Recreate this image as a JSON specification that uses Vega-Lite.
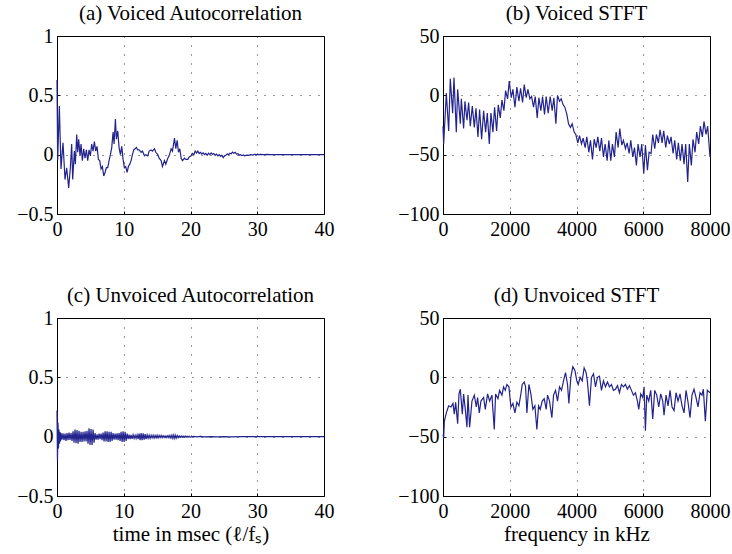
{
  "$schema": "https://vega.github.io/schema/vega-lite/v6.json",
  "background": "#ffffff",
  "autosize": {"type": "pad"},
  "padding": {"left": 16, "top": 2, "right": 5, "bottom": 5},
  "columns": 2,
  "spacing": {"row": 104, "column": 119},
  "bounds": "flush",
  "datasets": {
    "a": [
      {"t": 0, "v": 0.63}, {"t": 0.1, "v": -0.05}, {"t": 0.35, "v": 0.41}, {"t": 0.6, "v": -0.12}, {"t": 0.8, "v": 0.03}, {"t": 0.9, "v": 0.1},
      {"t": 1.2, "v": -0.21}, {"t": 1.45, "v": -0.11}, {"t": 1.75, "v": -0.28}, {"t": 2.0, "v": -0.11}, {"t": 2.2, "v": 0.09}, {"t": 2.35, "v": -0.21},
      {"t": 2.6, "v": 0.03}, {"t": 2.75, "v": -0.08}, {"t": 2.95, "v": 0.17}, {"t": 3.1, "v": 0.02}, {"t": 3.25, "v": 0.13}, {"t": 3.45, "v": -0.01},
      {"t": 3.6, "v": 0.09}, {"t": 3.8, "v": -0.05}, {"t": 4.0, "v": 0.05}, {"t": 4.2, "v": -0.03}, {"t": 4.4, "v": 0.04}, {"t": 4.6, "v": -0.05},
      {"t": 4.8, "v": 0.04}, {"t": 5.0, "v": -0.01}, {"t": 5.2, "v": 0.09}, {"t": 5.4, "v": 0.03}, {"t": 5.6, "v": 0.11}, {"t": 5.8, "v": 0.03},
      {"t": 6.0, "v": 0.07}, {"t": 6.2, "v": -0.04}, {"t": 6.4, "v": -0.05}, {"t": 6.6, "v": -0.12}, {"t": 6.8, "v": -0.1}, {"t": 7.0, "v": -0.18},
      {"t": 7.2, "v": -0.15}, {"t": 7.4, "v": -0.11}, {"t": 7.6, "v": -0.11}, {"t": 7.8, "v": -0.05}, {"t": 8.0, "v": 0.0}, {"t": 8.2, "v": 0.06},
      {"t": 8.4, "v": 0.19}, {"t": 8.55, "v": 0.09}, {"t": 8.75, "v": 0.3}, {"t": 8.9, "v": 0.13}, {"t": 9.1, "v": 0.2}, {"t": 9.3, "v": 0.06},
      {"t": 9.5, "v": 0.0}, {"t": 9.7, "v": 0.07}, {"t": 9.9, "v": -0.04}, {"t": 10.1, "v": -0.11}, {"t": 10.3, "v": -0.1}, {"t": 10.5, "v": -0.15},
      {"t": 10.7, "v": -0.1}, {"t": 10.9, "v": -0.08}, {"t": 11.1, "v": -0.05}, {"t": 11.3, "v": 0.0}, {"t": 11.5, "v": 0.04}, {"t": 11.7, "v": 0.05},
      {"t": 11.9, "v": 0.06}, {"t": 12.1, "v": 0.04}, {"t": 12.3, "v": 0.04}, {"t": 12.6, "v": 0.02}, {"t": 12.8, "v": 0.03}, {"t": 13.1, "v": -0.01},
      {"t": 13.3, "v": 0.0}, {"t": 13.6, "v": -0.01}, {"t": 13.8, "v": 0.03}, {"t": 14.1, "v": 0.04}, {"t": 14.3, "v": 0.03}, {"t": 14.6, "v": 0.05},
      {"t": 14.8, "v": 0.02}, {"t": 15.1, "v": 0.0}, {"t": 15.3, "v": -0.03}, {"t": 15.6, "v": -0.05}, {"t": 15.8, "v": -0.1}, {"t": 16.1, "v": -0.05},
      {"t": 16.3, "v": -0.08}, {"t": 16.6, "v": -0.03}, {"t": 16.8, "v": -0.01}, {"t": 17.1, "v": 0.05}, {"t": 17.3, "v": 0.03}, {"t": 17.6, "v": 0.14},
      {"t": 17.8, "v": 0.05}, {"t": 18.0, "v": 0.12}, {"t": 18.2, "v": 0.02}, {"t": 18.4, "v": 0.05}, {"t": 18.6, "v": -0.03}, {"t": 18.8, "v": -0.05},
      {"t": 19.1, "v": -0.03}, {"t": 19.3, "v": -0.04}, {"t": 19.6, "v": -0.04}, {"t": 19.8, "v": -0.02}, {"t": 20.1, "v": -0.01}, {"t": 20.3, "v": 0.01},
      {"t": 20.5, "v": 0.0}, {"t": 20.7, "v": 0.03}, {"t": 20.9, "v": 0.015}, {"t": 21.1, "v": 0.03}, {"t": 21.3, "v": 0.01}, {"t": 21.5, "v": 0.02},
      {"t": 21.7, "v": 0.005}, {"t": 21.9, "v": 0.015}, {"t": 22.1, "v": 0.0}, {"t": 22.3, "v": 0.01}, {"t": 22.5, "v": -0.005}, {"t": 22.7, "v": 0.012},
      {"t": 22.9, "v": 0.0}, {"t": 23.1, "v": 0.015}, {"t": 23.3, "v": 0.002}, {"t": 23.5, "v": 0.01}, {"t": 23.7, "v": -0.005}, {"t": 23.9, "v": 0.005},
      {"t": 24.1, "v": -0.01}, {"t": 24.3, "v": 0.0}, {"t": 24.5, "v": -0.015}, {"t": 24.7, "v": -0.005}, {"t": 24.9, "v": -0.025}, {"t": 25.1, "v": -0.01},
      {"t": 25.3, "v": -0.005}, {"t": 25.5, "v": 0.005}, {"t": 25.7, "v": 0.0}, {"t": 25.9, "v": 0.012}, {"t": 26.1, "v": 0.008}, {"t": 26.3, "v": 0.022},
      {"t": 26.5, "v": 0.012}, {"t": 26.7, "v": 0.02}, {"t": 26.9, "v": 0.005}, {"t": 27.1, "v": 0.008}, {"t": 27.3, "v": -0.005}, {"t": 27.5, "v": 0.0},
      {"t": 27.7, "v": -0.008}, {"t": 27.9, "v": -0.003}, {"t": 28.1, "v": -0.01}, {"t": 28.4, "v": -0.004}, {"t": 28.7, "v": -0.006}, {"t": 29.0, "v": 0.0},
      {"t": 29.3, "v": -0.003}, {"t": 29.6, "v": 0.002}, {"t": 30.0, "v": 0.001}, {"t": 30.5, "v": 0.003}, {"t": 31.0, "v": 0.0}, {"t": 31.5, "v": 0.002},
      {"t": 32.0, "v": 0.0}, {"t": 33.0, "v": 0.001}, {"t": 34.0, "v": 0.0}, {"t": 35.0, "v": 0.001}, {"t": 36.0, "v": 0.0}, {"t": 38.0, "v": 0.0}, {"t": 40.0, "v": 0.0}
    ],
    "b": [
      {"f": 0, "v": -26}, {"f": 20, "v": -41}, {"f": 100, "v": 2}, {"f": 170, "v": -30}, {"f": 219, "v": 14}, {"f": 289, "v": -15},
      {"f": 329, "v": 15}, {"f": 399, "v": -31}, {"f": 439, "v": 5}, {"f": 519, "v": -24}, {"f": 549, "v": -3}, {"f": 618, "v": -28},
      {"f": 658, "v": -5}, {"f": 718, "v": -21}, {"f": 768, "v": -6}, {"f": 818, "v": -26}, {"f": 878, "v": -9}, {"f": 938, "v": -27},
      {"f": 988, "v": -11}, {"f": 1047, "v": -35}, {"f": 1097, "v": -12}, {"f": 1157, "v": -37}, {"f": 1217, "v": -13}, {"f": 1277, "v": -31},
      {"f": 1327, "v": -15}, {"f": 1387, "v": -41}, {"f": 1436, "v": -15}, {"f": 1496, "v": -31}, {"f": 1546, "v": -10}, {"f": 1606, "v": -30},
      {"f": 1656, "v": -8}, {"f": 1716, "v": -19}, {"f": 1766, "v": -4}, {"f": 1825, "v": -13}, {"f": 1875, "v": 4}, {"f": 1935, "v": -3},
      {"f": 1985, "v": 12}, {"f": 2045, "v": -2}, {"f": 2095, "v": 5}, {"f": 2155, "v": -10}, {"f": 2214, "v": 7}, {"f": 2274, "v": -5},
      {"f": 2324, "v": 6}, {"f": 2384, "v": -6}, {"f": 2434, "v": 9}, {"f": 2494, "v": -2}, {"f": 2544, "v": 5}, {"f": 2603, "v": -3},
      {"f": 2653, "v": -1}, {"f": 2713, "v": -10}, {"f": 2763, "v": -1}, {"f": 2823, "v": -19}, {"f": 2873, "v": -2}, {"f": 2933, "v": -13},
      {"f": 2983, "v": -1}, {"f": 3042, "v": -16}, {"f": 3092, "v": -1}, {"f": 3152, "v": -15}, {"f": 3212, "v": -1}, {"f": 3272, "v": -13},
      {"f": 3322, "v": -2}, {"f": 3382, "v": -24}, {"f": 3431, "v": 0}, {"f": 3491, "v": -5}, {"f": 3541, "v": -3}, {"f": 3601, "v": -8},
      {"f": 3651, "v": -10}, {"f": 3711, "v": -16}, {"f": 3761, "v": -24}, {"f": 3820, "v": -27}, {"f": 3870, "v": -24}, {"f": 3930, "v": -31},
      {"f": 3980, "v": -33}, {"f": 4040, "v": -40}, {"f": 4090, "v": -34}, {"f": 4150, "v": -41}, {"f": 4200, "v": -36}, {"f": 4259, "v": -44},
      {"f": 4309, "v": -35}, {"f": 4369, "v": -48}, {"f": 4419, "v": -38}, {"f": 4479, "v": -54}, {"f": 4529, "v": -37}, {"f": 4589, "v": -44},
      {"f": 4638, "v": -35}, {"f": 4698, "v": -47}, {"f": 4748, "v": -36}, {"f": 4808, "v": -52}, {"f": 4858, "v": -41}, {"f": 4918, "v": -55},
      {"f": 4968, "v": -38}, {"f": 5027, "v": -55}, {"f": 5077, "v": -41}, {"f": 5137, "v": -52}, {"f": 5187, "v": -31}, {"f": 5247, "v": -44},
      {"f": 5297, "v": -28}, {"f": 5357, "v": -42}, {"f": 5406, "v": -38}, {"f": 5466, "v": -45}, {"f": 5516, "v": -40}, {"f": 5576, "v": -49},
      {"f": 5626, "v": -38}, {"f": 5686, "v": -52}, {"f": 5736, "v": -44}, {"f": 5795, "v": -59}, {"f": 5845, "v": -41}, {"f": 5905, "v": -52},
      {"f": 5955, "v": -41}, {"f": 6015, "v": -66}, {"f": 6065, "v": -42}, {"f": 6125, "v": -63}, {"f": 6175, "v": -48}, {"f": 6234, "v": -49},
      {"f": 6284, "v": -33}, {"f": 6344, "v": -45}, {"f": 6394, "v": -33}, {"f": 6454, "v": -40}, {"f": 6504, "v": -29}, {"f": 6564, "v": -40},
      {"f": 6613, "v": -30}, {"f": 6673, "v": -44}, {"f": 6723, "v": -34}, {"f": 6783, "v": -41}, {"f": 6833, "v": -35}, {"f": 6893, "v": -49},
      {"f": 6943, "v": -38}, {"f": 7002, "v": -54}, {"f": 7052, "v": -40}, {"f": 7112, "v": -55}, {"f": 7162, "v": -41}, {"f": 7222, "v": -58},
      {"f": 7272, "v": -41}, {"f": 7332, "v": -73}, {"f": 7381, "v": -41}, {"f": 7441, "v": -59}, {"f": 7491, "v": -37}, {"f": 7551, "v": -48},
      {"f": 7601, "v": -31}, {"f": 7661, "v": -41}, {"f": 7711, "v": -26}, {"f": 7771, "v": -35}, {"f": 7820, "v": -22}, {"f": 7880, "v": -33},
      {"f": 7930, "v": -26}, {"f": 8000, "v": -52}
    ],
    "c": [
      {"t": 0, "v": 0.22}, {"t": 0.07, "v": -0.2}, {"t": 0.15, "v": 0.12}, {"t": 0.22, "v": -0.1}, {"t": 0.3, "v": 0.06}, {"t": 0.37, "v": -0.06},
      {"t": 0.45, "v": 0.04}, {"t": 0.52, "v": -0.04}, {"t": 0.6, "v": 0.03}, {"t": 0.75, "v": -0.025}, {"t": 0.9, "v": 0.028}, {"t": 1.05, "v": -0.03},
      {"t": 1.2, "v": 0.025}, {"t": 1.35, "v": -0.035}, {"t": 1.5, "v": 0.03}, {"t": 1.65, "v": -0.03}, {"t": 1.8, "v": 0.035}, {"t": 1.95, "v": -0.028},
      {"t": 2.1, "v": 0.03}, {"t": 2.25, "v": -0.035}, {"t": 2.4, "v": 0.045}, {"t": 2.55, "v": -0.05}, {"t": 2.7, "v": 0.06}, {"t": 2.85, "v": -0.055},
      {"t": 3.0, "v": 0.055}, {"t": 3.15, "v": -0.06}, {"t": 3.3, "v": 0.05}, {"t": 3.45, "v": -0.045}, {"t": 3.6, "v": 0.04}, {"t": 3.75, "v": -0.045},
      {"t": 3.9, "v": 0.04}, {"t": 4.05, "v": -0.04}, {"t": 4.2, "v": 0.045}, {"t": 4.35, "v": -0.04}, {"t": 4.5, "v": 0.05}, {"t": 4.65, "v": -0.06},
      {"t": 4.8, "v": 0.07}, {"t": 4.95, "v": -0.07}, {"t": 5.1, "v": 0.065}, {"t": 5.25, "v": -0.07}, {"t": 5.4, "v": 0.06}, {"t": 5.55, "v": -0.05},
      {"t": 5.7, "v": 0.03}, {"t": 5.85, "v": -0.025}, {"t": 6.0, "v": 0.02}, {"t": 6.15, "v": -0.025}, {"t": 6.3, "v": 0.025}, {"t": 6.45, "v": -0.02},
      {"t": 6.6, "v": 0.025}, {"t": 6.75, "v": -0.03}, {"t": 6.9, "v": 0.035}, {"t": 7.05, "v": -0.04}, {"t": 7.2, "v": 0.045}, {"t": 7.35, "v": -0.04},
      {"t": 7.5, "v": 0.045}, {"t": 7.65, "v": -0.045}, {"t": 7.8, "v": 0.04}, {"t": 7.95, "v": -0.045}, {"t": 8.1, "v": 0.04}, {"t": 8.25, "v": -0.035},
      {"t": 8.4, "v": 0.03}, {"t": 8.55, "v": -0.025}, {"t": 8.7, "v": 0.025}, {"t": 8.85, "v": -0.025}, {"t": 9.0, "v": 0.028}, {"t": 9.15, "v": -0.03},
      {"t": 9.3, "v": 0.03}, {"t": 9.45, "v": -0.035}, {"t": 9.6, "v": 0.04}, {"t": 9.75, "v": -0.045}, {"t": 9.9, "v": 0.045}, {"t": 10.05, "v": -0.045},
      {"t": 10.2, "v": 0.04}, {"t": 10.35, "v": -0.035}, {"t": 10.5, "v": 0.025}, {"t": 10.65, "v": -0.02}, {"t": 10.8, "v": 0.018}, {"t": 10.95, "v": -0.02},
      {"t": 11.1, "v": 0.015}, {"t": 11.25, "v": -0.018}, {"t": 11.4, "v": 0.015}, {"t": 11.55, "v": -0.015}, {"t": 11.7, "v": 0.012}, {"t": 11.85, "v": -0.015},
      {"t": 12.0, "v": 0.015}, {"t": 12.15, "v": -0.02}, {"t": 12.3, "v": 0.025}, {"t": 12.45, "v": -0.03}, {"t": 12.6, "v": 0.03}, {"t": 12.75, "v": -0.03},
      {"t": 12.9, "v": 0.028}, {"t": 13.05, "v": -0.025}, {"t": 13.2, "v": 0.022}, {"t": 13.35, "v": -0.02}, {"t": 13.5, "v": 0.015}, {"t": 13.65, "v": -0.013},
      {"t": 13.8, "v": 0.012}, {"t": 13.95, "v": -0.014}, {"t": 14.1, "v": 0.012}, {"t": 14.25, "v": -0.01}, {"t": 14.4, "v": 0.012}, {"t": 14.55, "v": -0.012},
      {"t": 14.7, "v": 0.01}, {"t": 14.85, "v": -0.01}, {"t": 15.0, "v": 0.012}, {"t": 15.15, "v": -0.01}, {"t": 15.3, "v": 0.01}, {"t": 15.45, "v": -0.008},
      {"t": 15.6, "v": 0.01}, {"t": 15.75, "v": -0.008}, {"t": 15.9, "v": 0.008}, {"t": 16.05, "v": -0.008}, {"t": 16.2, "v": 0.007}, {"t": 16.35, "v": -0.007},
      {"t": 16.5, "v": 0.008}, {"t": 16.65, "v": -0.008}, {"t": 16.8, "v": 0.01}, {"t": 16.95, "v": -0.01}, {"t": 17.1, "v": 0.012}, {"t": 17.25, "v": -0.014},
      {"t": 17.4, "v": 0.015}, {"t": 17.55, "v": -0.015}, {"t": 17.7, "v": 0.014}, {"t": 17.85, "v": -0.012}, {"t": 18.0, "v": 0.01}, {"t": 18.15, "v": -0.008},
      {"t": 18.3, "v": 0.006}, {"t": 18.45, "v": -0.006}, {"t": 18.6, "v": 0.005}, {"t": 18.75, "v": -0.005}, {"t": 18.9, "v": 0.005}, {"t": 19.05, "v": -0.004},
      {"t": 19.2, "v": 0.004}, {"t": 19.35, "v": -0.004}, {"t": 19.5, "v": 0.004}, {"t": 19.65, "v": -0.004}, {"t": 19.8, "v": 0.003}, {"t": 19.95, "v": -0.003},
      {"t": 20.5, "v": 0.002}, {"t": 21.0, "v": -0.002}, {"t": 21.5, "v": 0.002}, {"t": 22.0, "v": -0.002}, {"t": 23.0, "v": 0.001}, {"t": 24.0, "v": -0.001},
      {"t": 25.0, "v": 0.001}, {"t": 26.0, "v": -0.001}, {"t": 28.0, "v": 0.001}, {"t": 30.0, "v": 0.0}, {"t": 32.0, "v": 0.0}, {"t": 35.0, "v": 0.0}, {"t": 40.0, "v": 0.0}
    ],
    "d": [
      {"f": 0, "v": -48}, {"f": 20, "v": -51}, {"f": 40, "v": -37}, {"f": 100, "v": -30}, {"f": 170, "v": -24}, {"f": 239, "v": -25},
      {"f": 299, "v": -22}, {"f": 339, "v": -31}, {"f": 379, "v": -21}, {"f": 439, "v": -39}, {"f": 479, "v": -14}, {"f": 519, "v": -10},
      {"f": 579, "v": -31}, {"f": 618, "v": -14}, {"f": 668, "v": -27}, {"f": 718, "v": -42}, {"f": 748, "v": -15}, {"f": 798, "v": -42},
      {"f": 868, "v": -20}, {"f": 938, "v": -15}, {"f": 998, "v": -25}, {"f": 1037, "v": -17}, {"f": 1087, "v": -30}, {"f": 1137, "v": -20},
      {"f": 1217, "v": -17}, {"f": 1267, "v": -27}, {"f": 1337, "v": -14}, {"f": 1397, "v": -20}, {"f": 1466, "v": -15}, {"f": 1536, "v": -44},
      {"f": 1576, "v": -14}, {"f": 1646, "v": -18}, {"f": 1696, "v": -11}, {"f": 1766, "v": -15}, {"f": 1815, "v": -8}, {"f": 1865, "v": -11},
      {"f": 1915, "v": -6}, {"f": 1975, "v": -8}, {"f": 2035, "v": -25}, {"f": 2095, "v": -22}, {"f": 2155, "v": -30}, {"f": 2214, "v": -21},
      {"f": 2274, "v": -24}, {"f": 2334, "v": -14}, {"f": 2374, "v": -6}, {"f": 2434, "v": -4}, {"f": 2474, "v": -8}, {"f": 2514, "v": -30},
      {"f": 2574, "v": -6}, {"f": 2633, "v": -14}, {"f": 2693, "v": -27}, {"f": 2753, "v": -24}, {"f": 2813, "v": -44}, {"f": 2863, "v": -24},
      {"f": 2913, "v": -27}, {"f": 2973, "v": -20}, {"f": 3032, "v": -18}, {"f": 3092, "v": -27}, {"f": 3132, "v": -15}, {"f": 3192, "v": -20},
      {"f": 3262, "v": -34}, {"f": 3312, "v": -15}, {"f": 3372, "v": -11}, {"f": 3431, "v": -20}, {"f": 3491, "v": -8}, {"f": 3551, "v": -11},
      {"f": 3611, "v": -3}, {"f": 3671, "v": 4}, {"f": 3731, "v": -6}, {"f": 3771, "v": -22}, {"f": 3830, "v": 0}, {"f": 3890, "v": 9},
      {"f": 3950, "v": 6}, {"f": 4010, "v": -3}, {"f": 4050, "v": -6}, {"f": 4110, "v": 0}, {"f": 4170, "v": -3}, {"f": 4229, "v": 8},
      {"f": 4289, "v": 4}, {"f": 4329, "v": -4}, {"f": 4389, "v": -24}, {"f": 4449, "v": 0}, {"f": 4509, "v": 3}, {"f": 4569, "v": -8},
      {"f": 4628, "v": 0}, {"f": 4688, "v": 1}, {"f": 4748, "v": -11}, {"f": 4808, "v": -3}, {"f": 4868, "v": -8}, {"f": 4928, "v": -4},
      {"f": 4988, "v": -8}, {"f": 5047, "v": -6}, {"f": 5107, "v": -11}, {"f": 5167, "v": -10}, {"f": 5227, "v": -7}, {"f": 5287, "v": -13},
      {"f": 5347, "v": -6}, {"f": 5406, "v": -8}, {"f": 5466, "v": -6}, {"f": 5526, "v": -10}, {"f": 5586, "v": -7}, {"f": 5646, "v": -11},
      {"f": 5706, "v": -15}, {"f": 5766, "v": -13}, {"f": 5825, "v": -20}, {"f": 5865, "v": -27}, {"f": 5925, "v": -14}, {"f": 5985, "v": -17},
      {"f": 6025, "v": -8}, {"f": 6065, "v": -45}, {"f": 6105, "v": -15}, {"f": 6164, "v": -20}, {"f": 6224, "v": -11}, {"f": 6284, "v": -35},
      {"f": 6344, "v": -11}, {"f": 6404, "v": -15}, {"f": 6464, "v": -25}, {"f": 6524, "v": -14}, {"f": 6584, "v": -20}, {"f": 6623, "v": -32},
      {"f": 6683, "v": -15}, {"f": 6743, "v": -24}, {"f": 6803, "v": -11}, {"f": 6863, "v": -25}, {"f": 6923, "v": -28}, {"f": 6983, "v": -13},
      {"f": 7042, "v": -20}, {"f": 7102, "v": -14}, {"f": 7162, "v": -24}, {"f": 7222, "v": -30}, {"f": 7282, "v": -11}, {"f": 7342, "v": -21},
      {"f": 7401, "v": -34}, {"f": 7461, "v": -15}, {"f": 7521, "v": -10}, {"f": 7581, "v": -17}, {"f": 7641, "v": -25}, {"f": 7701, "v": -13},
      {"f": 7761, "v": -15}, {"f": 7801, "v": -10}, {"f": 7860, "v": -37}, {"f": 7920, "v": -11}, {"f": 8000, "v": -13}
    ]
  },
  "concat": [
    {
      "data": {"name": "a"},
      "title": "(a) Voiced Autocorrelation",
      "width": 267, "height": 178,
      "mark": {"type": "line"},
      "encoding": {
        "x": {"field": "t", "type": "quantitative", "scale": {"domain": [0, 40], "nice": false, "zero": false}, "axis": {"values": [0, 10, 20, 30, 40], "title": null, "format": "d"}},
        "y": {"field": "v", "type": "quantitative", "scale": {"domain": [-0.5, 1], "nice": false, "zero": false}, "axis": {"values": [-0.5, 0, 0.5, 1], "title": null, "format": "~r"}}
      }
    },
    {
      "data": {"name": "b"},
      "title": "(b) Voiced STFT",
      "width": 267, "height": 178,
      "mark": {"type": "line"},
      "encoding": {
        "x": {"field": "f", "type": "quantitative", "scale": {"domain": [0, 8000], "nice": false, "zero": false}, "axis": {"values": [0, 2000, 4000, 6000, 8000], "title": null, "format": "d"}},
        "y": {"field": "v", "type": "quantitative", "scale": {"domain": [-100, 50], "nice": false, "zero": false}, "axis": {"values": [-100, -50, 0, 50], "title": null, "format": "d"}}
      }
    },
    {
      "data": {"name": "c"},
      "title": "(c) Unvoiced Autocorrelation",
      "width": 267, "height": 178,
      "mark": {"type": "line"},
      "encoding": {
        "x": {"field": "t", "type": "quantitative", "scale": {"domain": [0, 40], "nice": false, "zero": false}, "axis": {"values": [0, 10, 20, 30, 40], "title": "time in msec (ℓ/fₛ)", "format": "d"}},
        "y": {"field": "v", "type": "quantitative", "scale": {"domain": [-0.5, 1], "nice": false, "zero": false}, "axis": {"values": [-0.5, 0, 0.5, 1], "title": null, "format": "~r"}}
      }
    },
    {
      "data": {"name": "d"},
      "title": "(d) Unvoiced STFT",
      "width": 267, "height": 178,
      "mark": {"type": "line"},
      "encoding": {
        "x": {"field": "f", "type": "quantitative", "scale": {"domain": [0, 8000], "nice": false, "zero": false}, "axis": {"values": [0, 2000, 4000, 6000, 8000], "title": "frequency in kHz", "format": "d"}},
        "y": {"field": "v", "type": "quantitative", "scale": {"domain": [-100, 50], "nice": false, "zero": false}, "axis": {"values": [-100, -50, 0, 50], "title": null, "format": "d"}}
      }
    }
  ],
  "config": {
    "view": {"stroke": "#000000", "strokeWidth": 1},
    "font": "Liberation Serif, Times New Roman, Times, serif",
    "axis": {
      "domain": false,
      "grid": true,
      "gridColor": "#000000",
      "gridDash": [1, 8],
      "gridWidth": 1,
      "gridOpacity": 0.8,
      "ticks": true,
      "tickColor": "#000000",
      "tickSize": -3,
      "labelFont": "Liberation Serif, Times New Roman, Times, serif",
      "labelFontSize": 20,
      "labelColor": "#000000",
      "labelFlush": false,
      "labelOverlap": false,
      "titleFont": "Liberation Serif, Times New Roman, Times, serif",
      "titleFontSize": 21,
      "titleFontWeight": "normal",
      "titleColor": "#000000",
      "titlePadding": 2
    },
    "axisX": {"labelPadding": 8},
    "axisY": {"labelPadding": 7},
    "title": {"font": "Liberation Serif, Times New Roman, Times, serif", "fontSize": 21, "fontWeight": "normal", "color": "#000000", "offset": 2, "frame": "group"},
    "line": {"color": "#23238e", "strokeWidth": 1.2}
  }
}
